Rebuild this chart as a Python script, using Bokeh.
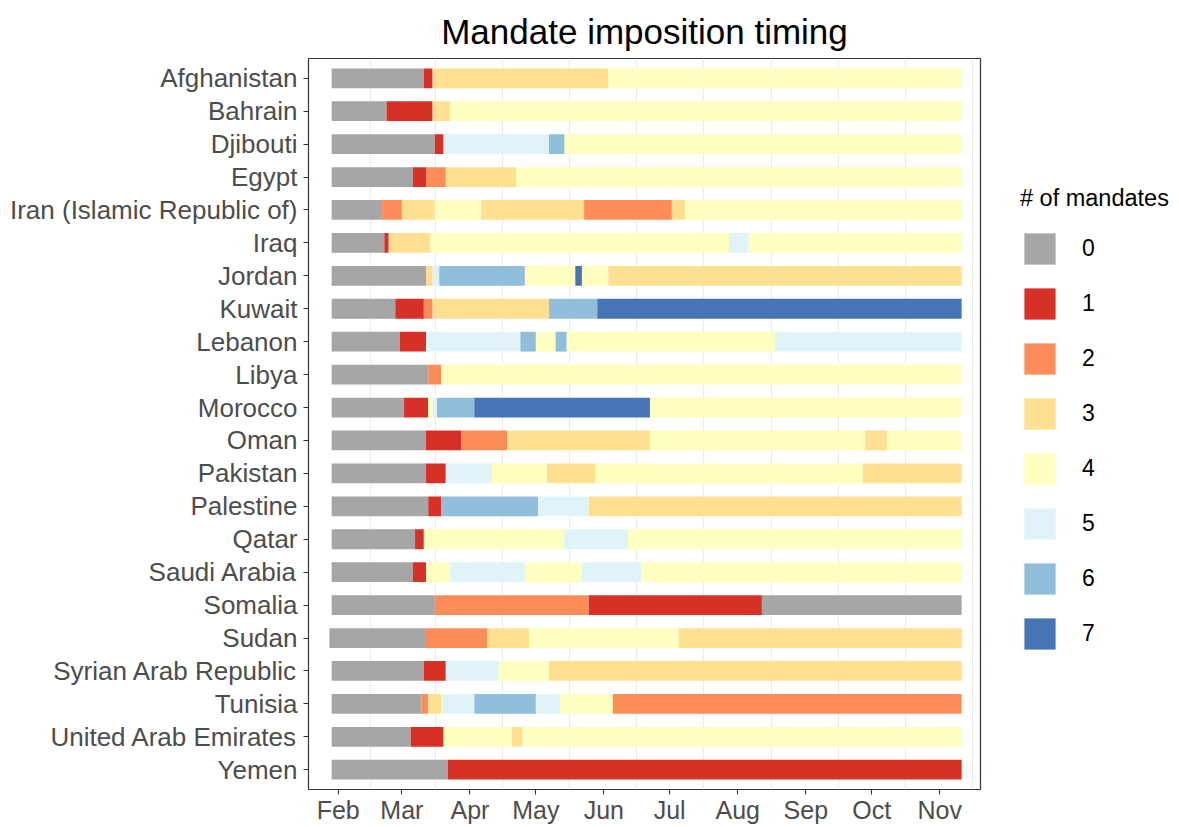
import pandas as pd
from bokeh.plotting import figure
from bokeh.layouts import row
from bokeh.models import (ColumnDataSource, Range1d, FixedTicker, DatetimeTickFormatter,
                          Legend, LegendItem)
from bokeh.embed import file_html
from bokeh.resources import INLINE

# ---------------- data ----------------
countries = ["Afghanistan", "Bahrain", "Djibouti", "Egypt", "Iran (Islamic Republic of)",
             "Iraq", "Jordan", "Kuwait", "Lebanon", "Libya", "Morocco", "Oman", "Pakistan",
             "Palestine", "Qatar", "Saudi Arabia", "Somalia", "Sudan", "Syrian Arab Republic",
             "Tunisia", "United Arab Emirates", "Yemen"]

# start date of each segment (a segment ends where the next one starts, the last one at END)
seg_starts = [
    ["2020-01-29", "2020-03-11", "2020-03-15", "2020-06-03"],
    ["2020-01-29", "2020-02-23", "2020-03-15", "2020-03-23"],
    ["2020-01-29", "2020-03-16", "2020-03-20", "2020-05-07", "2020-05-14"],
    ["2020-01-29", "2020-03-06", "2020-03-12", "2020-03-21", "2020-04-22"],
    ["2020-01-29", "2020-02-21", "2020-03-01", "2020-03-16", "2020-04-06", "2020-05-23", "2020-07-02", "2020-07-08"],
    ["2020-01-29", "2020-02-22", "2020-02-24", "2020-03-14", "2020-07-28", "2020-08-06"],
    ["2020-01-29", "2020-03-12", "2020-03-15", "2020-03-18", "2020-04-26", "2020-05-19", "2020-05-22", "2020-06-03"],
    ["2020-01-29", "2020-02-27", "2020-03-11", "2020-03-15", "2020-05-07", "2020-05-29"],
    ["2020-01-29", "2020-02-29", "2020-03-12", "2020-04-24", "2020-05-01", "2020-05-10", "2020-05-15", "2020-08-18"],
    ["2020-01-29", "2020-03-13", "2020-03-19"],
    ["2020-01-29", "2020-03-02", "2020-03-13", "2020-03-15", "2020-03-17", "2020-04-03", "2020-06-22"],
    ["2020-01-29", "2020-03-12", "2020-03-28", "2020-04-18", "2020-06-22", "2020-09-28", "2020-10-08"],
    ["2020-01-29", "2020-03-12", "2020-03-21", "2020-04-11", "2020-05-06", "2020-05-28", "2020-09-27"],
    ["2020-01-29", "2020-03-13", "2020-03-19", "2020-05-02", "2020-05-25"],
    ["2020-01-29", "2020-03-07", "2020-03-11", "2020-05-14", "2020-06-12"],
    ["2020-01-29", "2020-03-06", "2020-03-12", "2020-03-23", "2020-04-26", "2020-05-22", "2020-06-18"],
    ["2020-01-29", "2020-03-16", "2020-05-25", "2020-08-12"],
    ["2020-01-28", "2020-03-12", "2020-04-09", "2020-04-28", "2020-07-05"],
    ["2020-01-29", "2020-03-11", "2020-03-21", "2020-04-14", "2020-05-07"],
    ["2020-01-29", "2020-03-10", "2020-03-13", "2020-03-19", "2020-04-03", "2020-05-01", "2020-05-12", "2020-06-05"],
    ["2020-01-29", "2020-03-05", "2020-03-20", "2020-04-20", "2020-04-25"],
    ["2020-01-29", "2020-03-22"],
]
seg_levels = [
    [0, 1, 3, 4],
    [0, 1, 3, 4],
    [0, 1, 5, 6, 4],
    [0, 1, 2, 3, 4],
    [0, 2, 3, 4, 3, 2, 3, 4],
    [0, 1, 3, 4, 5, 4],
    [0, 3, 5, 6, 4, 7, 4, 3],
    [0, 1, 2, 3, 6, 7],
    [0, 1, 5, 6, 4, 6, 4, 5],
    [0, 2, 4],
    [0, 1, 4, 5, 6, 7, 4],
    [0, 1, 2, 3, 4, 3, 4],
    [0, 1, 5, 4, 3, 4, 3],
    [0, 1, 6, 5, 3],
    [0, 1, 4, 5, 4],
    [0, 1, 4, 5, 4, 5, 4],
    [0, 2, 1, 0],
    [0, 2, 3, 4, 3],
    [0, 1, 5, 4, 3],
    [0, 2, 3, 5, 6, 5, 4, 2],
    [0, 1, 4, 3, 4],
    [0, 1],
]
END = "2020-11-11"

levels = [0, 1, 2, 3, 4, 5, 6, 7]
level_colors = ["#A6A6A6", "#D73027", "#FC8D59", "#FEE090", "#FFFFBF", "#E0F3F8", "#91BFDB", "#4575B4"]

tick_months = ["2020-02-01", "2020-03-01", "2020-04-01", "2020-05-01", "2020-06-01",
               "2020-07-01", "2020-08-01", "2020-09-01", "2020-10-01", "2020-11-01"]


def ms(s):
    return pd.Timestamp(s).value / 1e6


# ---------------- main plot ----------------
n = len(countries)
FONT = "Liberation Sans"

p = figure(width=1000, height=827, output_backend="svg", toolbar_location=None,
           x_axis_type="datetime",
           x_range=Range1d(ms("2020-01-18 11:00"), ms("2020-11-19 14:00")),
           y_range=Range1d(0.4, n + 0.6),
           min_border_left=308, min_border_right=20, min_border_top=58, min_border_bottom=38,
           background_fill_color="white", border_fill_color="white")

data = {lv: dict(y=[], left=[], right=[]) for lv in levels}
for i, c in enumerate(countries):
    y = n - i
    starts = seg_starts[i]
    ends = starts[1:] + [END]
    for s, e, lv in zip(starts, ends, seg_levels[i]):
        data[lv]["y"].append(y)
        data[lv]["left"].append(ms(s))
        data[lv]["right"].append(ms(e))

for lv, col in zip(levels, level_colors):
    src = ColumnDataSource(data[lv])
    p.hbar(y="y", left="left", right="right", height=0.6, source=src,
           fill_color=col, line_color=None)

# x axis ticks / grid
all_months = pd.date_range("2020-01-01", "2020-12-01", freq="MS")
minor = [((a.value + b.value) / 2) / 1e6 for a, b in zip(all_months[:-1], all_months[1:])]
xt = FixedTicker(ticks=[ms(t) for t in tick_months], minor_ticks=minor)
p.xaxis.ticker = xt
p.xgrid.ticker = xt
p.xaxis.formatter = DatetimeTickFormatter(months="%b", days="%b", years="%b")
p.xgrid.grid_line_color = None
p.xgrid.minor_grid_line_color = "#EBEBEB"
p.xgrid.minor_grid_line_width = 1.1
p.ygrid.grid_line_color = None

p.yaxis.ticker = FixedTicker(ticks=list(range(1, n + 1)))
p.yaxis.major_label_overrides = {n - i: c for i, c in enumerate(countries)}

for ax in (p.xaxis[0], p.yaxis[0]):
    ax.axis_line_color = None
    ax.major_tick_line_color = "#333333"
    ax.major_tick_line_width = 1.1
    ax.major_tick_in = 0
    ax.major_tick_out = 5
    ax.minor_tick_line_color = None
    ax.major_label_text_font = FONT
    ax.major_label_text_color = "#4D4D4D"
p.xaxis.major_label_text_font_size = "25px"
p.yaxis.major_label_text_font_size = "26px"
p.xaxis.major_label_standoff = 1
p.yaxis.major_label_standoff = 6

p.outline_line_color = "#333333"
p.outline_line_width = 1.2

p.title.text = "Mandate imposition timing"
p.title.align = "center"
p.title.vertical_align = "bottom"
p.title.text_font = FONT
p.title.text_font_size = "35px"
p.title.text_font_style = "normal"
p.title.text_color = "black"
p.title.standoff = 16

# ---------------- legend panel ----------------
pl = figure(width=179, height=827, output_backend="svg", toolbar_location=None,
            title=None, x_range=Range1d(0, 1), y_range=Range1d(0, 1),
            x_axis_location=None, y_axis_location=None,
            min_border=0, background_fill_color="white", border_fill_color="white")
pl.outline_line_color = None
pl.grid.visible = False

items = []
for lv, col in zip(levels, level_colors):
    # legend key only: one placeholder bar placed outside the visible ranges
    r = pl.hbar(y=[50], left=[50], right=[51], height=0.6, fill_color=col, line_color=None)
    items.append(LegendItem(label=str(lv), renderers=[r]))

legend = Legend(items=items, title="# of mandates", location=(20, 136),
                glyph_width=39, glyph_height=39, spacing=16, label_standoff=23,
                label_text_font=FONT, label_text_font_size="23px", label_text_color="black",
                title_text_font=FONT, title_text_font_size="23.5px", title_text_font_style="normal",
                title_text_color="black", title_standoff=17,
                padding=0, margin=0, border_line_color=None, background_fill_alpha=0)
pl.add_layout(legend)

layout = row(p, pl, spacing=0)
open("out.html", "w").write(file_html(layout, INLINE))
